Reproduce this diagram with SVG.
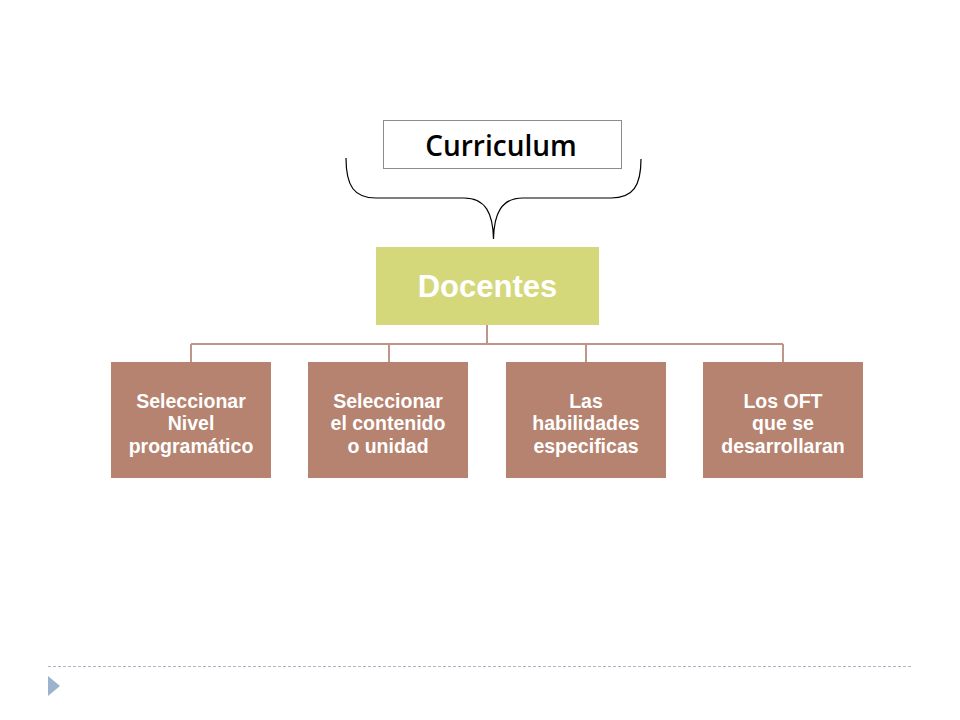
<svg xmlns="http://www.w3.org/2000/svg" width="960" height="720" viewBox="0 0 960 720">
<style>
.child{fill:#B5836F}
.ct{font-family:"Liberation Sans",Arial,sans-serif;font-weight:bold;font-size:19.5px;fill:#FFFFFF;text-anchor:middle}
.conn{fill:none;stroke:#C09488;stroke-width:2}
</style>
<rect width="960" height="720" fill="#FFFFFF"/>
<g id="curriculum">
<rect x="383.5" y="120.5" width="238" height="48" fill="#FFFFFF" stroke="#8C8C8C" stroke-width="1"/>
<text x="501" y="156" font-family="'Open Sans','Noto Sans',sans-serif" font-weight="600" font-size="28" fill="#000000" text-anchor="middle">Curriculum</text>
</g>
<g id="brace">
<path d="M346,158 C346,186 354,198 376,198 L464,198 C486,198 493,214 493.5,239 C494,214 501,198 523,198 L611,198 C633,198 641,186 641,159" fill="none" stroke="#000000" stroke-width="1.2"/>
</g>
<g id="docentes">
<rect x="376" y="247" width="223" height="78" fill="#D4D87B"/>
<text x="487.5" y="297" font-family="'Liberation Sans',Arial,sans-serif" font-weight="bold" font-size="31" fill="#FFFFFF" text-anchor="middle">Docentes</text>
</g>
<g id="connectors">
<path class="conn" d="M487,325 V344 M191,344 H783 M191,344 V362 M389,344 V362 M586,344 V362 M783,344 V362"/>
</g>
<g id="n1">
<rect class="child" x="111" y="362" width="160" height="116"/>
<text class="ct"><tspan x="191" y="407.5">Seleccionar</tspan><tspan x="191" y="430">Nivel</tspan><tspan x="191" y="452.5">programático</tspan></text>
</g>
<g id="n2">
<rect class="child" x="308" y="362" width="160" height="116"/>
<text class="ct"><tspan x="388" y="407.5">Seleccionar</tspan><tspan x="388" y="430">el contenido</tspan><tspan x="388" y="452.5">o unidad</tspan></text>
</g>
<g id="n3">
<rect class="child" x="506" y="362" width="160" height="116"/>
<text class="ct"><tspan x="586" y="407.5">Las</tspan><tspan x="586" y="430">habilidades</tspan><tspan x="586" y="452.5">especificas</tspan></text>
</g>
<g id="n4">
<rect class="child" x="703" y="362" width="160" height="116"/>
<text class="ct"><tspan x="783" y="407.5">Los OFT</tspan><tspan x="783" y="430">que se</tspan><tspan x="783" y="452.5">desarrollaran</tspan></text>
</g>
<g id="footer">
<line x1="48" y1="666.5" x2="912" y2="666.5" stroke="#A9B8C6" stroke-width="1" stroke-dasharray="3,2"/>
<polygon points="48,676 60,686 48,696" fill="#9BB3CB"/>
</g>
</svg>
